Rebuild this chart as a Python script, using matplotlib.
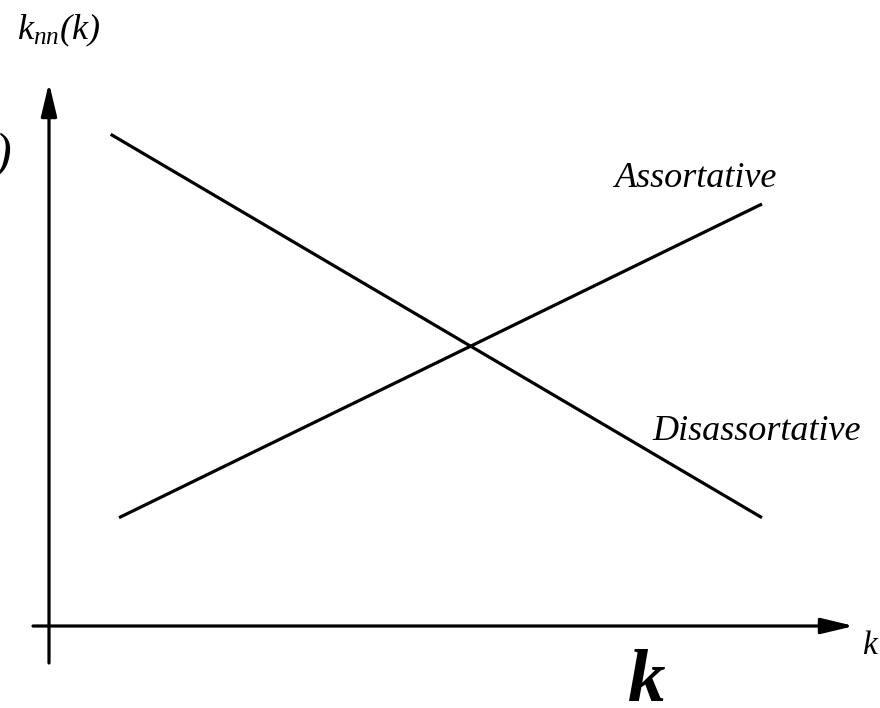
import matplotlib
matplotlib.use("Agg")
import matplotlib.pyplot as plt

plt.rcParams['mathtext.fontset'] = 'custom'
plt.rcParams['mathtext.it'] = 'Liberation Serif:italic'
plt.rcParams['mathtext.rm'] = 'Liberation Serif:italic'
plt.rcParams['mathtext.bf'] = 'Liberation Serif:bold:italic'

# Data (schematic values, origin at axis crossing)
disassort_k = [0.627, 7.14]
disassort_knn = [4.917, 1.083]
assort_k = [0.71, 7.14]
assort_knn = [1.083, 4.22]
series_labels = ["Assortative", "Disassortative"]
x_axis_label = "k"
y_axis_label = r"$k_{nn}(k)$"

fig = plt.figure(figsize=(8.8, 7.08), dpi=100)
ax = fig.add_axes([0, 0, 1, 1])
ax.set_xlim(-0.48, 8.32)
ax.set_ylim(-0.82, 6.26)
ax.axis('off')

lw = 2.3
ax.plot(disassort_k, disassort_knn, color='black', lw=lw, solid_capstyle='butt')
ax.plot(assort_k, assort_knn, color='black', lw=lw, solid_capstyle='butt')

# axes with arrows
arrow_style = "-|>,head_length=2.0,head_width=0.48"
ax.annotate("", xy=(0.01, 5.43), xytext=(0.01, -0.37),
            arrowprops=dict(arrowstyle=arrow_style, mutation_scale=10, lw=lw,
                            color='black', shrinkA=0, shrinkB=0))
ax.annotate("", xy=(8.06, 0.0), xytext=(-0.15, 0.0),
            arrowprops=dict(arrowstyle=arrow_style, mutation_scale=10, lw=lw,
                            color='black', shrinkA=0, shrinkB=0))

serif_it = dict(family='Liberation Serif', style='italic')
ax.text(5.67, 4.39, series_labels[0], fontsize=26, va='baseline', ha='left', **serif_it)
ax.text(6.04, 1.86, series_labels[1], fontsize=26, va='baseline', ha='left', **serif_it)

# y-axis label at top
ax.text(-0.31, 5.87, y_axis_label, fontsize=26, va='baseline', ha='left')
# partially clipped large label at left edge
ax.text(-0.37, 4.58, y_axis_label, fontsize=36, va='baseline', ha='right')
# small clipped x label at right edge
ax.text(8.14, -0.28, x_axis_label, fontsize=24, va='baseline', ha='left', **serif_it)
# big bold italic k
ax.text(5.99, -0.75, x_axis_label, fontsize=54, va='baseline', ha='center',
        family='Liberation Serif', style='italic', weight='bold')

fig.savefig("out.png", dpi=100)
